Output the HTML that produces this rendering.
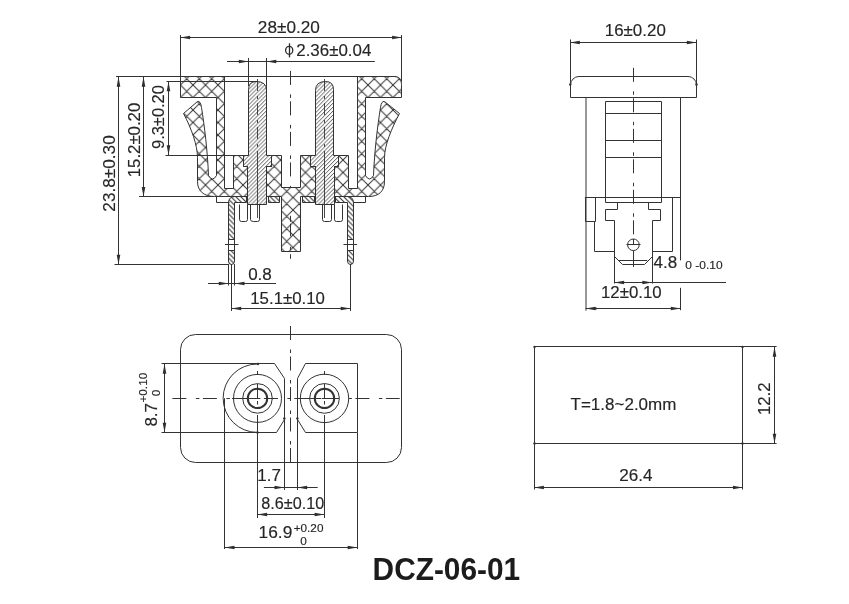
<!DOCTYPE html>
<html><head><meta charset="utf-8"><style>
html,body{margin:0;padding:0;background:#fff;width:849px;height:604px;overflow:hidden}
svg{display:block;will-change:transform}
.t{font-family:"Liberation Sans",sans-serif;fill:#262626;stroke:#262626;stroke-width:0.15}
.title{font-family:"Liberation Sans",sans-serif;fill:#1c1c1c;stroke:none}
line,path,rect,circle,ellipse{stroke:#333;stroke-width:1;fill:none}
.thin{stroke-width:0.9}
.phi{stroke-width:1.3;stroke:#2a2a2a}
.thick{stroke-width:2}
.dd{stroke-dasharray:14 9.5 3.5 3.5}
.dd2{stroke-dasharray:12 5 3 4;stroke-width:0.9}
.ah{fill:#2e2e2e;stroke:none}
.dot{fill:#333;stroke:none}
.xh{fill:url(#xh)}
.ph{fill:url(#ph)}
.bh{fill:url(#bh)}
</style></head><body>
<svg width="849" height="604" viewBox="0 0 849 604">
<defs>
<pattern id="xh" patternUnits="userSpaceOnUse" x="5.5" y="10" width="12.5" height="12.5">
<path d="M0,0 L12.5,12.5 M0,12.5 L12.5,0 M-1,1 L1,-1 M11.5,13.5 L13.5,11.5 M-1,11.5 L1,13.5 M11.5,-1 L13.5,1" style="stroke:#333;stroke-width:1;fill:none"/>
</pattern>
<pattern id="ph" patternUnits="userSpaceOnUse" x="0" y="0" width="3.93" height="3.93">
<path d="M-0.98,0.98 L0.98,-0.98 M0,3.93 L3.93,0 M2.95,4.91 L4.91,2.95" style="stroke:#333;stroke-width:0.85;fill:none"/>
</pattern>
<pattern id="bh" patternUnits="userSpaceOnUse" x="0" y="0" width="4.9" height="4.9">
<path d="M-1.2,3.7 L1.2,6.1 M0,0 L4.9,4.9 M3.7,-1.2 L6.1,1.2" style="stroke:#333;stroke-width:1.1;fill:none"/>
</pattern>
</defs>
<rect x="0" y="0" width="849" height="604" style="fill:#fff;stroke:none"/>
<line x1="180.5" y1="35" x2="180.5" y2="77"/>
<line x1="401.5" y1="35" x2="401.5" y2="82"/>
<line x1="180.3" y1="37.5" x2="401.9" y2="37.5"/>
<polygon class="ah" points="180.3,37.5 190.1,35.7 190.1,39.3"/>
<polygon class="ah" points="401.9,37.5 392.1,35.7 392.1,39.3"/>
<line x1="248.5" y1="58" x2="248.5" y2="86"/>
<line x1="266.5" y1="58" x2="266.5" y2="92"/>
<line x1="227" y1="61.5" x2="374.8" y2="61.5"/>
<polygon class="ah" points="248.6,61.5 238.8,59.7 238.8,63.3"/>
<polygon class="ah" points="266.5,61.5 276.3,59.7 276.3,63.3"/>
<ellipse cx="289.2" cy="50.3" rx="3.6" ry="4" class="phi"/>
<line x1="289.5" y1="43.3" x2="289.5" y2="57.4" class="phi"/>
<line x1="116" y1="76.5" x2="396" y2="76.5"/>
<line x1="166.5" y1="81.5" x2="257.5" y2="81.5"/>
<line x1="165.5" y1="155.5" x2="248.5" y2="155.5"/>
<line x1="139" y1="196.5" x2="214" y2="196.5"/>
<line x1="114.5" y1="264.5" x2="229" y2="264.5"/>
<line x1="118.5" y1="76.9" x2="118.5" y2="264.5"/>
<polygon class="ah" points="118.5,76.9 116.7,86.7 120.3,86.7"/>
<polygon class="ah" points="118.5,264.5 116.7,254.7 120.3,254.7"/>
<line x1="143.5" y1="76.9" x2="143.5" y2="196.8"/>
<polygon class="ah" points="143.5,76.9 141.7,86.7 145.3,86.7"/>
<polygon class="ah" points="143.5,196.8 141.7,187 145.3,187"/>
<line x1="168.5" y1="81.4" x2="168.5" y2="155.1"/>
<polygon class="ah" points="168.5,81.4 166.7,91.2 170.3,91.2"/>
<polygon class="ah" points="168.5,155.1 166.7,145.3 170.3,145.3"/>
<path d="M180.5,76.5 H224.5 V188.5 H233.5 V155.5 H243.5 V166.5 H247.5 V196.5 H214.5 C204.5,196.5 197.5,191.5 197.5,181.5 V157.5 C197.5,145.5 191.5,128.5 183.5,113.5 L197.5,101.5 Q200.5,100.5 201.5,107.5 C204.5,126.5 207.5,150.5 208.5,175.5 Q212.5,182.5 216.5,175.5 V97.5 H180.5 Z" class="xh"/>
<path d="M 394.5,76.5 H 357.5 V 188.5 H 348.5 V 155.5 H 338.5 V 166.5 H 334.5 V 196.5 H 368.5 C 378.5,196.5 384.5,191.5 384.5,181.5 V 157.5 C 384.5,145.5 391.5,128.5 399.5,113.5 L 384.5,101.5 Q 381.5,100.5 380.5,107.5 C 377.5,126.5 374.5,150.5 373.5,175.5 Q 369.5,182.5 365.5,175.5 V 97.5 H 401.5 V 84.5 Q 401.5,76.5 394.5,76.5 Z" class="xh"/>
<path d="M266.5,166.5 H271.5 V155.5 H281.5 V187.5 H300.5 V155.5 H310.5 V166.5 H315.5 V196.5 H300.5 V251.5 H281.5 V196.5 H266.5 Z" class="xh"/>
<path d="M216.5,196.5 V202.5 H229.5"/>
<path d="M 365.5,196.5 V 202.5 H 353.5"/>
<path d="M247.5,204.5 V166.5 H243.5 V155.5 H248.5 V89.5 Q248.5,81.5 256.5,81.5 Q266.5,81.5 266.5,90.5 V155.5 H271.5 V166.5 H266.5 V204.5 Z" class="ph"/>
<path d="M 334.5,204.5 V 166.5 H 338.5 V 155.5 H 333.5 V 89.5 Q 333.5,81.5 325.5,81.5 Q 315.5,81.5 315.5,90.5 V 155.5 H 310.5 V 166.5 H 315.5 V 204.5 Z" class="ph"/>
<line x1="257.5" y1="79" x2="257.5" y2="160" class="dd2"/>
<line x1="257.5" y1="160" x2="257.5" y2="218" class="thin"/>
<line x1="324.5" y1="79" x2="324.5" y2="160" class="dd2"/>
<line x1="324.5" y1="160" x2="324.5" y2="218" class="thin"/>
<path d="M268.5,196.5 H279.5 V202.5 H268.5 Z" class="bh"/>
<path d="M 314.5,196.5 H 302.5 V 202.5 H 314.5 Z" class="bh"/>
<path d="M228.5,261 V203 Q228.5,196.5 235,196.5 H246.5 V202.5 H234.5 V261 Q234.5,264.5 231.5,264.5 Q228.5,264.5 228.5,261 Z" class="bh"/>
<path d="M 353.5,261 V 203 Q 353.5,196.5 347,196.5 H 335.5 V 202.5 H 347.5 V 261 Q 347.5,264.5 350.5,264.5 Q 353.5,264.5 353.5,261 Z" class="bh"/>
<rect x="228.5" y="239.5" width="6.0" height="11" style="fill:#fff;stroke:#333;stroke-width:1"/>
<line x1="225" y1="244.5" x2="238.5" y2="244.5"/>
<rect x="347.5" y="239.5" width="6.0" height="11" style="fill:#fff;stroke:#333;stroke-width:1"/>
<line x1="343.5" y1="244.5" x2="357" y2="244.5"/>
<path d="M239.5,204.5 V219.5 Q239.5,221.5 241.5,221.5 H245.5 Q247.5,221.5 247.5,219.5 V204.5"/>
<path d="M 342.5,204.5 V 219.5 Q 342.5,221.5 340.5,221.5 H 336.5 Q 334.5,221.5 334.5,219.5 V 204.5"/>
<path d="M250.5,204.5 V219.5 Q250.5,221.5 253.5,221.5 H257.5 Q259.5,221.5 259.5,219.5 V204.5"/>
<path d="M 331.5,204.5 V 219.5 Q 331.5,221.5 329.5,221.5 H 324.5 Q 322.5,221.5 322.5,219.5 V 204.5"/>
<line x1="290.5" y1="70.9" x2="290.5" y2="187.7" class="dd"/>
<line x1="290.5" y1="215.8" x2="290.5" y2="221.8"/>
<line x1="290.5" y1="223.7" x2="290.5" y2="236.3"/>
<line x1="290.5" y1="246.9" x2="290.5" y2="250.2"/>
<line x1="290.5" y1="254.2" x2="290.5" y2="258.8"/>
<line x1="228.5" y1="264.5" x2="228.5" y2="285.5"/>
<line x1="234.5" y1="264" x2="234.5" y2="285.5"/>
<line x1="208" y1="283.5" x2="276" y2="283.5"/>
<polygon class="ah" points="228.6,283.5 218.8,281.7 218.8,285.3"/>
<polygon class="ah" points="234.7,283.5 244.5,281.7 244.5,285.3"/>
<line x1="231.5" y1="264" x2="231.5" y2="311"/>
<line x1="350.5" y1="264" x2="350.5" y2="311"/>
<line x1="231.4" y1="308.5" x2="350.5" y2="308.5"/>
<polygon class="ah" points="231.4,308.5 241.2,306.7 241.2,310.3"/>
<polygon class="ah" points="350.5,308.5 340.7,306.7 340.7,310.3"/>
<line x1="570.5" y1="39.5" x2="570.5" y2="85"/>
<line x1="696.5" y1="39.5" x2="696.5" y2="85"/>
<line x1="570" y1="42.5" x2="696.6" y2="42.5"/>
<polygon class="ah" points="570,42.5 579.8,40.7 579.8,44.3"/>
<polygon class="ah" points="696.6,42.5 686.8,40.7 686.8,44.3"/>
<path d="M570.5,97.5 V85 A8.5,8.5 0 0 1 579,76.5 H688 A8.5,8.5 0 0 1 696.5,85 V97.5 Z"/>
<line x1="586" y1="97.1" x2="586" y2="310.7"/>
<line x1="680.5" y1="97.1" x2="680.5" y2="260.4"/>
<path d="M605.5,101.5 H661.5 V202.5 H605.5 Z"/>
<line x1="605.6" y1="113.5" x2="661.6" y2="113.5"/>
<line x1="605.6" y1="140.5" x2="661.6" y2="140.5"/>
<line x1="605.6" y1="157.5" x2="661.6" y2="157.5"/>
<line x1="633.5" y1="67.8" x2="633.5" y2="236" class="dd"/>
<line x1="633.5" y1="239" x2="633.5" y2="244.8"/>
<line x1="633.5" y1="250.6" x2="633.5" y2="267"/>
<line x1="584.9" y1="197.5" x2="680.5" y2="197.5"/>
<path d="M585.5,197.5 V221.5 H595.5 V197.5"/>
<path d="M594.5,221.5 V251.5 H614.5"/>
<path d="M652.5,251.5 H672.5 V197.5"/>
<path d="M617.5,202.5 V209.5 H605.5 V220.5 H614.5 V256.5 L622.5,264.5 H644.5 L652.5,256.5 V220.5 H660.5 V209.5 H648.5 V202.5"/>
<line x1="619.1" y1="260.5" x2="647.2" y2="260.5"/>
<circle cx="633.4" cy="244.8" r="5.8"/>
<line x1="626.5" y1="244.5" x2="640.5" y2="244.5"/>
<line x1="614.5" y1="256" x2="614.5" y2="283.5"/>
<line x1="652.5" y1="256" x2="652.5" y2="283.5"/>
<line x1="614.3" y1="282.5" x2="726" y2="282.5"/>
<polygon class="ah" points="614.3,282.5 624.1,280.7 624.1,284.3"/>
<polygon class="ah" points="652.2,282.5 642.4,280.7 642.4,284.3"/>
<line x1="680.5" y1="287.8" x2="680.5" y2="310.2"/>
<line x1="585.7" y1="308.5" x2="680.6" y2="308.5"/>
<polygon class="ah" points="585.7,308.5 595.5,306.7 595.5,310.3"/>
<polygon class="ah" points="680.6,308.5 670.8,306.7 670.8,310.3"/>
<rect x="180.5" y="334.5" width="221" height="128" rx="15" ry="15"/>
<path d="M161.5,363.5 H274.5 L284.5,378.5 V419.5 L276.5,432.5 H161.5"/>
<path d="M257.3,364 A34.2,34.2 0 0 0 257.3,432.4"/>
<path d="M305.5,363.5 H357.5 V432.5 H305.5 L297.5,419.5 V378.5 Z"/>
<circle cx="257.5" cy="398.4" r="24"/>
<circle cx="257.5" cy="398.4" r="14.8"/>
<circle cx="257.5" cy="398.4" r="9.7" class="thick"/>
<circle cx="324.5" cy="398.4" r="24.2"/>
<circle cx="324.5" cy="398.4" r="14.9"/>
<circle cx="324.5" cy="398.4" r="9.7" class="thick"/>
<line x1="172.4" y1="398.5" x2="399.7" y2="398.5" class="dd"/>
<line x1="290.5" y1="326" x2="290.5" y2="462.6" class="dd"/>
<line x1="257.5" y1="371" x2="257.5" y2="375"/>
<line x1="257.5" y1="384" x2="257.5" y2="398.4"/>
<line x1="257.5" y1="401" x2="257.5" y2="404.5"/>
<line x1="257.5" y1="415" x2="257.5" y2="518"/>
<line x1="324.5" y1="371" x2="324.5" y2="375"/>
<line x1="324.5" y1="384" x2="324.5" y2="398.4"/>
<line x1="324.5" y1="401" x2="324.5" y2="404.5"/>
<line x1="324.5" y1="415" x2="324.5" y2="518"/>
<line x1="232" y1="398.5" x2="258" y2="398.5"/>
<line x1="265" y1="398.5" x2="278" y2="398.5"/>
<line x1="300" y1="398.5" x2="318" y2="398.5"/>
<line x1="322" y1="398.5" x2="339" y2="398.5"/>
<line x1="224.5" y1="398.2" x2="224.5" y2="549"/>
<line x1="357.5" y1="432.6" x2="357.5" y2="549"/>
<line x1="284.5" y1="419" x2="284.5" y2="490"/>
<line x1="297.5" y1="419" x2="297.5" y2="490"/>
<line x1="164.5" y1="363.9" x2="164.5" y2="432.6"/>
<polygon class="ah" points="164.5,363.9 162.7,373.7 166.3,373.7"/>
<polygon class="ah" points="164.5,432.6 162.7,422.8 166.3,422.8"/>
<line x1="263.9" y1="487.5" x2="317.7" y2="487.5"/>
<polygon class="ah" points="284.3,487.5 274.5,485.7 274.5,489.3"/>
<polygon class="ah" points="297.3,487.5 307.1,485.7 307.1,489.3"/>
<line x1="257.3" y1="514.5" x2="324.4" y2="514.5"/>
<polygon class="ah" points="257.3,514.5 267.1,512.7 267.1,516.3"/>
<polygon class="ah" points="324.4,514.5 314.6,512.7 314.6,516.3"/>
<line x1="224.7" y1="547.5" x2="357.5" y2="547.5"/>
<polygon class="ah" points="224.7,547.5 234.5,545.7 234.5,549.3"/>
<polygon class="ah" points="357.5,547.5 347.7,545.7 347.7,549.3"/>
<line x1="534.1" y1="346.5" x2="776.6" y2="346.5"/>
<line x1="534.1" y1="443.5" x2="776.6" y2="443.5"/>
<line x1="534.5" y1="346.9" x2="534.5" y2="489.5"/>
<line x1="742.5" y1="346.9" x2="742.5" y2="489.5"/>
<line x1="534.1" y1="487.5" x2="742.8" y2="487.5"/>
<polygon class="ah" points="534.1,487.5 543.9,485.7 543.9,489.3"/>
<polygon class="ah" points="742.8,487.5 733,485.7 733,489.3"/>
<line x1="774.5" y1="346.9" x2="774.5" y2="443.5"/>
<polygon class="ah" points="774.5,346.9 772.7,356.7 776.3,356.7"/>
<polygon class="ah" points="774.5,443.5 772.7,433.7 776.3,433.7"/>
<circle cx="742.5" cy="347" r="1.2" class="dot"/>
<circle cx="534.5" cy="443.5" r="1.2" class="dot"/>
<circle cx="534.5" cy="347" r="1.2" class="dot"/>
<circle cx="742.5" cy="443.5" r="1.2" class="dot"/>
<circle cx="284.3" cy="418.5" r="1.2" class="dot"/>
<circle cx="297.4" cy="418.5" r="1.2" class="dot"/>
<circle cx="570.2" cy="84.5" r="1.2" class="dot"/>
<circle cx="696.5" cy="84.5" r="1.2" class="dot"/>
<circle cx="258" cy="364" r="1.2" class="dot"/>
<circle cx="257.5" cy="432.5" r="1.2" class="dot"/>
<circle cx="595.6" cy="308.5" r="1.2" class="dot"/>
<text x="0" y="0" font-size="17.0" class="t" transform="translate(257.84 32.72) scale(1.0127 1)">28±0.20</text>
<text x="0" y="0" font-size="17.0" class="t" transform="translate(296.25 56.41) scale(0.9957 1)">2.36±0.04</text>
<text x="0" y="0" font-size="17.0" class="t" transform="translate(115.02 211.66) rotate(-90) scale(1.0128 1)">23.8±0.30</text>
<text x="0" y="0" font-size="17.0" class="t" transform="translate(140.17 177.24) rotate(-90) scale(0.9872 1)">15.2±0.20</text>
<text x="0" y="0" font-size="17.0" class="t" transform="translate(164.22 149.02) rotate(-90) scale(0.969 1)">9.3±0.20</text>
<text x="0" y="0" font-size="17.0" class="t" transform="translate(248.13 279.81)">0.8</text>
<text x="0" y="0" font-size="17.0" class="t" transform="translate(250.25 303.87) scale(0.9899 1)">15.1±0.10</text>
<text x="0" y="0" font-size="17.0" class="t" transform="translate(604.75 35.72) scale(0.9961 1)">16±0.20</text>
<text x="0" y="0" font-size="17.0" class="t" transform="translate(653.45 268.26)">4.8</text>
<text x="0" y="0" font-size="11.8" class="t" transform="translate(685.32 268.62) scale(1.0153 1)">0 -0.10</text>
<text x="0" y="0" font-size="17.0" class="t" transform="translate(600.95 298.01) scale(0.9894 1)">12±0.10</text>
<text x="0" y="0" font-size="17.0" class="t" transform="translate(156.67 426.58) rotate(-90)">8.7</text>
<text x="0" y="0" font-size="11.8" class="t" transform="translate(146.97 402.59) rotate(-90)">+0.10</text>
<text x="0" y="0" font-size="11.8" class="t" transform="translate(159.87 396.25) rotate(-90)">0</text>
<text x="0" y="0" font-size="17.0" class="t" transform="translate(257.23 480.97)">1.7</text>
<text x="0" y="0" font-size="17.0" class="t" transform="translate(261.35 509.41) scale(0.9526 1)">8.6±0.10</text>
<text x="0" y="0" font-size="17.0" class="t" transform="translate(258.51 537.97) scale(1.0213 1)">16.9</text>
<text x="0" y="0" font-size="11.8" class="t" transform="translate(293.71 531.62) scale(0.9968 1)">+0.20</text>
<text x="0" y="0" font-size="11.8" class="t" transform="translate(300.2 544.87)">0</text>
<text x="0" y="0" font-size="17.0" class="t" transform="translate(570.56 409.67)">T=1.8~2.0mm</text>
<text x="0" y="0" font-size="17.0" class="t" transform="translate(619.14 480.97) scale(1.0066 1)">26.4</text>
<text x="0" y="0" font-size="17.0" class="t" transform="translate(770.0 415.04) rotate(-90) scale(0.9858 1)">12.2</text>
<text x="0" y="0" font-size="31.69" font-weight="bold" class="title" transform="translate(372.61 580.38) scale(0.9421 1)">DCZ-06-01</text>
</svg>
</body></html>
